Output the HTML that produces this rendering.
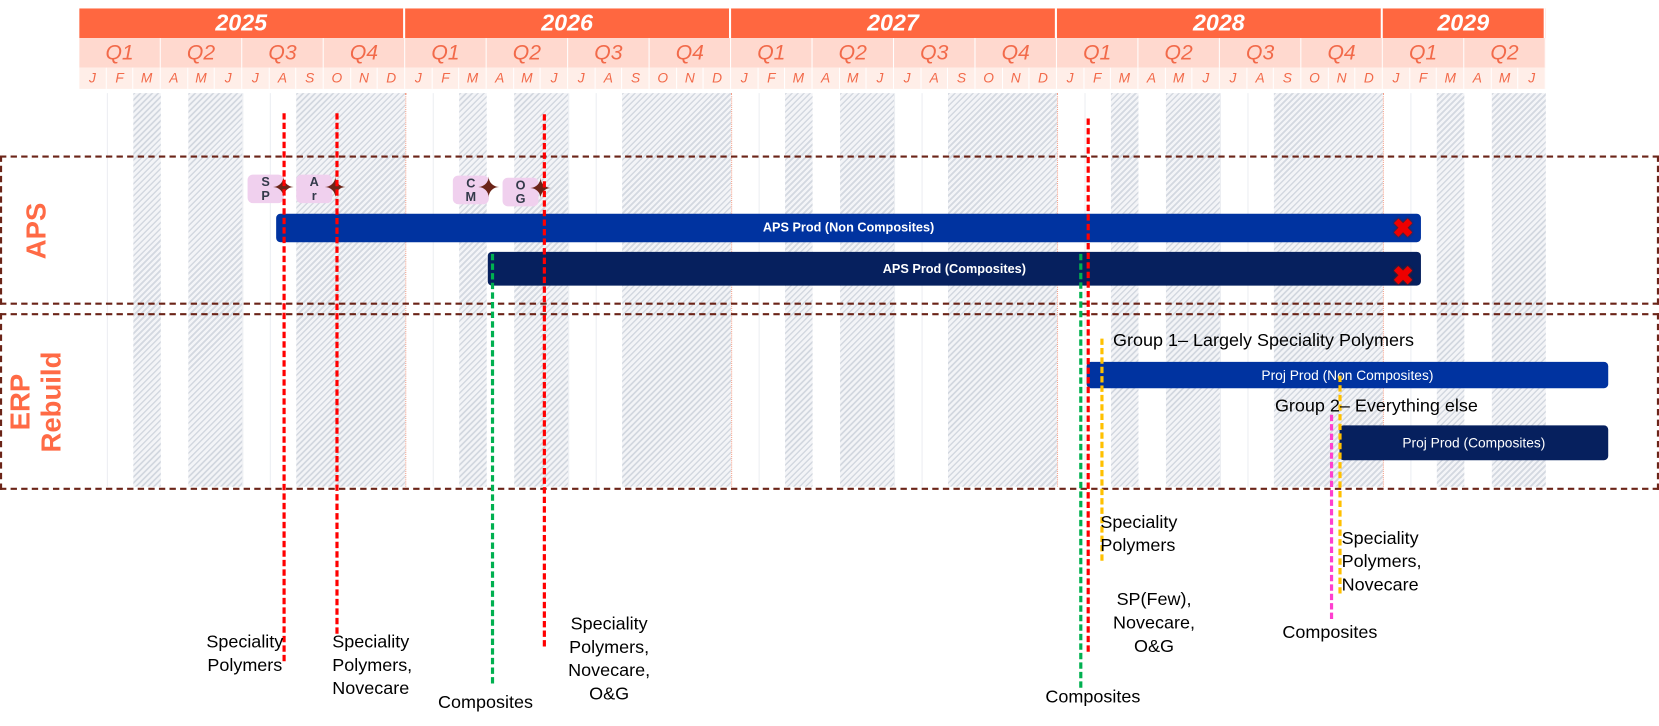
<!DOCTYPE html>
<html><head><meta charset="utf-8"><style>
body{margin:0;width:1659px;height:726px;background:#fff;position:relative;overflow:hidden;font-family:"Liberation Sans",sans-serif}
#w{position:absolute;left:0;top:0;width:1568px;height:686px;transform:scale(1.05804);transform-origin:0 0}
#w div{position:absolute;box-sizing:border-box}
.h{top:88px;height:372px;background:repeating-linear-gradient(135deg,#d3d8e0 0 1.5px,#f3f4f7 1.5px 4px)}
.g{top:88px;height:372px;width:1px;background:#eceef2}
.yr{top:8px;height:28px;background:#ff6740;color:#fff;font-weight:bold;font-style:italic;font-size:22px;text-align:center;line-height:28px;border-right:2px solid #fff}
.q{top:36px;height:28px;background:#ffd9cf;color:#f26a4a;font-style:italic;font-size:20px;text-align:center;line-height:28px;border-right:1.5px solid #fff}
.m{top:64px;height:20px;background:#ffeee8;color:#f26a4a;font-style:italic;font-size:13px;text-align:center;line-height:20px;border-right:1px solid #fff;width:25.67px}
.yl{top:88px;height:372px;border-left:1px dotted #f4a08a}
.v{width:0;border-left:3px dashed}
.lab{font-size:17px;line-height:22px;color:#000;white-space:nowrap}
.bar{color:#fff;font-weight:bold;font-size:12px;text-align:center;border-radius:4px}
.tag{background:#f0d0ee;border-radius:5px;color:#333a4a;font-weight:bold;font-size:12px;text-align:center;line-height:13px;width:34px;height:27px;padding-top:1px}
.st{color:#6b2418;font-size:26px;line-height:26px}
.x{color:#e00;font-weight:bold;font-size:24px;line-height:24px;text-shadow:0 0 2px #6b1a10,0 0 2px #6b1a10}
</style></head><body><div id="w">
<div class="h" style="left:126px;width:26px"></div><div class="h" style="left:178px;width:51px"></div><div class="h" style="left:280px;width:103px"></div>
<div class="h" style="left:434px;width:26px"></div><div class="h" style="left:486px;width:51px"></div><div class="h" style="left:588px;width:103px"></div>
<div class="h" style="left:742px;width:26px"></div><div class="h" style="left:794px;width:51px"></div><div class="h" style="left:896px;width:103px"></div>
<div class="h" style="left:1050px;width:26px"></div><div class="h" style="left:1102px;width:51px"></div><div class="h" style="left:1204px;width:103px"></div>
<div class="h" style="left:1358px;width:26px"></div><div class="h" style="left:1410px;width:51px"></div>
<div class="g" style="left:101px"></div><div class="g" style="left:229px"></div><div class="g" style="left:255px"></div>
<div class="g" style="left:409px"></div><div class="g" style="left:537px"></div><div class="g" style="left:563px"></div>
<div class="g" style="left:717px"></div><div class="g" style="left:845px"></div><div class="g" style="left:871px"></div>
<div class="g" style="left:1025px"></div><div class="g" style="left:1153px"></div><div class="g" style="left:1179px"></div>
<div class="g" style="left:1333px"></div>
<div class="yl" style="left:383px"></div><div class="yl" style="left:691px"></div><div class="yl" style="left:999px"></div><div class="yl" style="left:1307px"></div>
<div class="yr" style="left:75px;width:308px">2025</div><div class="yr" style="left:383px;width:308px">2026</div><div class="yr" style="left:691px;width:308px">2027</div><div class="yr" style="left:999px;width:308px">2028</div><div class="yr" style="left:1307px;width:154px">2029</div>
<div class="q" style="left:75px;width:77px">Q1</div><div class="q" style="left:152px;width:77px">Q2</div><div class="q" style="left:229px;width:77px">Q3</div><div class="q" style="left:306px;width:77px">Q4</div>
<div class="q" style="left:383px;width:77px">Q1</div><div class="q" style="left:460px;width:77px">Q2</div><div class="q" style="left:537px;width:77px">Q3</div><div class="q" style="left:614px;width:77px">Q4</div>
<div class="q" style="left:691px;width:77px">Q1</div><div class="q" style="left:768px;width:77px">Q2</div><div class="q" style="left:845px;width:77px">Q3</div><div class="q" style="left:922px;width:77px">Q4</div>
<div class="q" style="left:999px;width:77px">Q1</div><div class="q" style="left:1076px;width:77px">Q2</div><div class="q" style="left:1153px;width:77px">Q3</div><div class="q" style="left:1230px;width:77px">Q4</div>
<div class="q" style="left:1307px;width:77px">Q1</div><div class="q" style="left:1384px;width:77px">Q2</div>
<div class="m" style="left:75.0px">J</div><div class="m" style="left:100.7px">F</div><div class="m" style="left:126.3px">M</div><div class="m" style="left:152.0px">A</div><div class="m" style="left:177.7px">M</div><div class="m" style="left:203.3px">J</div><div class="m" style="left:229.0px">J</div><div class="m" style="left:254.7px">A</div><div class="m" style="left:280.4px">S</div><div class="m" style="left:306.0px">O</div><div class="m" style="left:331.7px">N</div><div class="m" style="left:357.4px">D</div>
<div class="m" style="left:383.0px">J</div><div class="m" style="left:408.7px">F</div><div class="m" style="left:434.3px">M</div><div class="m" style="left:460.0px">A</div><div class="m" style="left:485.7px">M</div><div class="m" style="left:511.3px">J</div><div class="m" style="left:537.0px">J</div><div class="m" style="left:562.7px">A</div><div class="m" style="left:588.4px">S</div><div class="m" style="left:614.0px">O</div><div class="m" style="left:639.7px">N</div><div class="m" style="left:665.4px">D</div>
<div class="m" style="left:691.0px">J</div><div class="m" style="left:716.7px">F</div><div class="m" style="left:742.3px">M</div><div class="m" style="left:768.0px">A</div><div class="m" style="left:793.7px">M</div><div class="m" style="left:819.3px">J</div><div class="m" style="left:845.0px">J</div><div class="m" style="left:870.7px">A</div><div class="m" style="left:896.4px">S</div><div class="m" style="left:922.0px">O</div><div class="m" style="left:947.7px">N</div><div class="m" style="left:973.4px">D</div>
<div class="m" style="left:999.0px">J</div><div class="m" style="left:1024.7px">F</div><div class="m" style="left:1050.3px">M</div><div class="m" style="left:1076.0px">A</div><div class="m" style="left:1101.7px">M</div><div class="m" style="left:1127.3px">J</div><div class="m" style="left:1153.0px">J</div><div class="m" style="left:1178.7px">A</div><div class="m" style="left:1204.4px">S</div><div class="m" style="left:1230.0px">O</div><div class="m" style="left:1255.7px">N</div><div class="m" style="left:1281.4px">D</div>
<div class="m" style="left:1307.0px">J</div><div class="m" style="left:1332.7px">F</div><div class="m" style="left:1358.3px">M</div><div class="m" style="left:1384.0px">A</div><div class="m" style="left:1409.7px">M</div><div class="m" style="left:1435.3px">J</div>
<div style="left:0;top:147px;width:1568px;height:141px;border:2px dashed #6b2418"></div>
<div style="left:0;top:296px;width:1568px;height:167px;border:2px dashed #6b2418"></div>
<div style="left:14px;top:205px;width:40px;height:40px;color:#ff6a45;font-weight:bold;font-size:26px;transform:rotate(-90deg);line-height:40px;text-align:center">APS</div>
<div style="left:-30px;top:350px;width:130px;height:60px;color:#ff6a45;font-weight:bold;font-size:26px;transform:rotate(-90deg);line-height:29px;text-align:center">ERP<br>Rebuild</div>
<div class="bar" style="left:261px;top:202px;width:1082px;height:27px;line-height:27px;background:#0033a0">APS Prod (Non Composites)</div>
<div class="bar" style="left:461px;top:238px;width:882px;height:32px;line-height:32px;background:#06205e">APS Prod (Composites)</div>
<div class="bar" style="left:1027px;top:342px;width:493px;height:25px;line-height:25px;background:#0033a0;font-weight:normal;font-size:13px">Proj Prod (Non Composites)</div>
<div class="bar" style="left:1266px;top:402px;width:254px;height:33px;line-height:33px;background:#06205e;font-weight:normal;font-size:13px">Proj Prod (Composites)</div>
<div class="x" style="left:1316px;top:205px">✖</div><div class="x" style="left:1316px;top:250px">✖</div>
<div class="tag" style="left:234px;top:165px">S<br>P</div><div class="st" style="left:257px;top:164px">✦</div>
<div class="tag" style="left:280px;top:165px">A<br>r</div><div class="st" style="left:306px;top:164px">✦</div>
<div class="tag" style="left:428px;top:166px">C<br>M</div><div class="st" style="left:451px;top:164px">✦</div>
<div class="tag" style="left:475px;top:168px">O<br>G</div><div class="st" style="left:500px;top:165px">✦</div>
<div class="v" style="left:267px;top:107px;height:518px;border-color:#f00"></div>
<div class="v" style="left:317px;top:107px;height:492px;border-color:#f00"></div>
<div class="v" style="left:513px;top:108px;height:503px;border-color:#f00"></div>
<div class="v" style="left:464px;top:240px;height:406px;border-color:#00b050"></div>
<div class="v" style="left:1027px;top:112px;height:504px;border-color:#f00"></div>
<div class="v" style="left:1020px;top:240px;height:410px;border-color:#00b050"></div>
<div class="v" style="left:1040px;top:320px;height:210px;border-color:#ffc000"></div>
<div class="v" style="left:1265px;top:355px;height:206px;border-color:#ffc000"></div>
<div class="v" style="left:1257px;top:392px;height:193px;border-color:#ff3fcf"></div>
<div class="lab" style="left:1052px;top:311px">Group 1– Largely Speciality Polymers</div>
<div class="lab" style="left:1205px;top:373px">Group 2– Everything else</div>
<div class="lab" style="left:195px;top:596px;text-align:center">Speciality<br>Polymers</div>
<div class="lab" style="left:314px;top:596px">Speciality<br>Polymers,<br>Novecare</div>
<div class="lab" style="left:414px;top:653px">Composites</div>
<div class="lab" style="left:537px;top:579px;text-align:center">Speciality<br>Polymers,<br>Novecare,<br>O&amp;G</div>
<div class="lab" style="left:988px;top:648px">Composites</div>
<div class="lab" style="left:1040px;top:483px">Speciality<br>Polymers</div>
<div class="lab" style="left:1052px;top:556px;text-align:center">SP(Few),<br>Novecare,<br>O&amp;G</div>
<div class="lab" style="left:1268px;top:498px">Speciality<br>Polymers,<br>Novecare</div>
<div class="lab" style="left:1212px;top:587px">Composites</div>
</div></body></html>
